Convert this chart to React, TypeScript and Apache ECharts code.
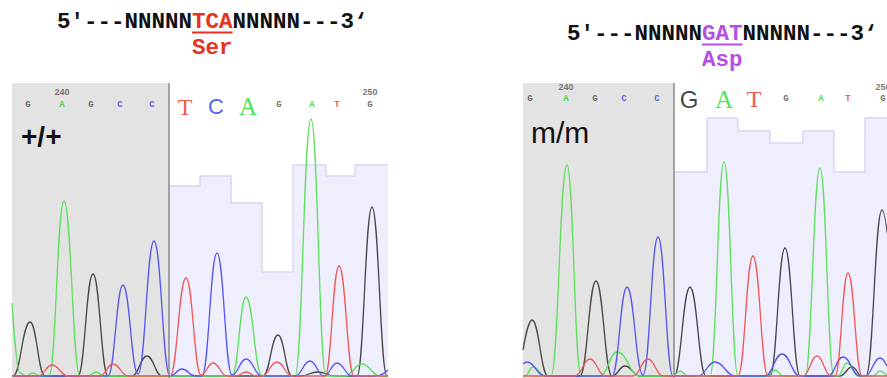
import React, { useEffect, useRef } from "react";
import * as echarts from "echarts";

// ---------- data (x = trace scan index within panel, y = signal intensity) ----------
// Wild type (+/+) panel
const wtBlack = [[0,0],[1,0],[18,54],[33,0],[66,0],[81,102],[96,0],[120,0],[135,20],[150,0],[251,0],[266,41],[280,0],[288,0],[306,4],[323,0],[345,0],[360,169],[375,0],[376,0]];
const wtGreen = [[0,73],[8,3],[14,0],[21,3],[28,0],[37,0],[52,175],[68,0],[76,0],[84,4],[92,0],[220,0],[234,79],[250,0],[283,0],[299,257],[314,0],[333,0],[350,12],[368,0],[376,0]];
const wtBlue = [[0,0],[96,0],[111,91],[126,2],[142,135],[158,0],[170,7],[183,0],[190,0],[205,123],[220,1],[234,17],[250,0],[283,0],[298,15],[312,0],[325,13],[340,0],[364,0],[376,6]];
const wtRed = [[0,0],[26,0],[40,11],[56,0],[88,0],[101,12],[116,0],[158,0],[174,98],[189,1],[201,13],[215,0],[224,0],[234,4],[244,0],[250,0],[265,14],[280,0],[313,0],[327,110],[342,0],[376,0]];
const wtQualX = [157, 188, 219, 250, 281, 314, 343, 376];
const wtQual = [190, 200, 173, 104, 211, 200, 211, 211];
const wtCalls = ["G","A","G","C","C","T","C","A","G","A","T","G"];
const wtCallX = [16, 50, 79, 108, 140, 173, 204, 236, 267, 300, 325, 358];

// Mutant (m/m) panel
const mutBlack = [[0,26],[9,56],[25,0],[57,0],[73,95],[89,0],[102,10],[117,0],[151,0],[167,89],[183,0],[247,0],[262,128],[277,0],[317,0],[329,9],[339,0],[343,0],[359,166],[375,0]];
const mutGreen = [[0,0],[2,0],[10,9],[22,0],[28,0],[44,211],[58,0],[77,0],[94,24],[117,0],[150,0],[157,5],[165,0],[187,0],[201,214],[215,0],[244,0],[252,6],[260,0],[282,0],[297,208],[311,0],[315,0],[324,13],[335,0],[350,0],[357,5],[364,0]];
const mutBlue = [[0,12],[4,14],[22,0],[89,0],[104,89],[120,1],[135,139],[150,0],[175,0],[192,14],[212,0],[242,0],[259,22],[277,0],[305,0],[320,19],[337,0],[342,0],[357,18],[364,10]];
const mutRed = [[0,0],[52,0],[67,17],[82,0],[110,0],[125,17],[140,0],[215,0],[230,120],[245,0],[280,0],[294,20],[308,0],[312,0],[325,103],[339,0],[364,0]];
const mutQualX = [151, 184, 215, 247, 280, 311, 342, 364];
const mutQual = [204, 258, 245, 233, 245, 204, 258, 258];
const mutCalls = ["G","A","G","C","C","G","A","T","G","A","T","G"];
const mutCallX = [7, 43, 72, 101, 134, 166, 201, 231, 263, 298, 325, 360];

const positionLabels = ["240", "250"];
const genotypes = ["+/+", "m/m"];
const codons = ["TCA", "GAT"];
const aminoAcids = ["Ser", "Asp"];

const traceColors: Record<string, string> = { G: "#474747", A: "#5ce05c", C: "#5656ef", T: "#ef5858" };
const callColors: Record<string, string> = { G: "#444444", A: "#22cc22", C: "#3a3aee", T: "#ee3030" };
const bigColors: Record<string, string> = { G: "#111111", A: "#22dd22", C: "#2238ee", T: "#ee2a1a" };
const bigFonts: Record<string, string> = { G: "Liberation Sans", A: "Liberation Serif", C: "Liberation Sans", T: "Liberation Serif" };
const bigSizes: Record<string, number> = { G: 24, A: 25, C: 22, T: 24 };

export default function App() {
  const ref = useRef<HTMLDivElement>(null);
  useEffect(() => {
    if (!ref.current) return;
    const chart = echarts.init(ref.current, undefined, { renderer: "svg" });

    const panels = [
      { black: wtBlack, green: wtGreen, blue: wtBlue, red: wtRed, qx: wtQualX, q: wtQual, calls: wtCalls, cx: wtCallX, divider: wtQualX[0], smallY: 271.5, bigY: 269.5, numY: 284 },
      { black: mutBlack, green: mutGreen, blue: mutBlue, red: mutRed, qx: mutQualX, q: mutQual, calls: mutCalls, cx: mutCallX, divider: mutQualX[0], smallY: 277, bigY: 277, numY: 289 },
    ];

    const series: any[] = [];
    panels.forEach((p, gi) => {
      series.push({
        type: "line",
        xAxisIndex: gi,
        yAxisIndex: gi,
        step: "end",
        symbol: "none",
        silent: true,
        z: 1,
        data: p.qx.map((x, i) => [x, p.q[i]]),
        lineStyle: { color: "#d6d6f6", width: 1.5 },
        areaStyle: { color: "#eeeefc", opacity: 1, origin: "start" },
        markArea: {
          silent: true,
          itemStyle: { color: "#e3e3e3" },
          data: [[{ xAxis: 0 }, { xAxis: p.divider }]],
        },
        markLine: {
          silent: true,
          symbol: "none",
          label: { show: false },
          lineStyle: { color: "#8a8a8a", width: 1.5, type: "solid" },
          data: [{ xAxis: p.divider }],
        },
      });
      const chans: [string, number[][]][] = [["G", p.black], ["A", p.green], ["C", p.blue], ["T", p.red]];
      chans.forEach(([b, d]) => {
        series.push({
          type: "line",
          xAxisIndex: gi,
          yAxisIndex: gi,
          smooth: 0.45,
          smoothMonotone: "x",
          symbol: "none",
          silent: true,
          z: 3,
          data: d,
          lineStyle: { color: traceColors[b], width: 1.3 },
        });
      });
      const codonStart = 5;
      const items: any[] = p.calls.map((c, i) => {
        const big = i >= codonStart && i < codonStart + 3;
        return {
          value: [p.cx[i], big ? p.bigY : p.smallY],
          label: {
            show: true,
            position: "inside",
            formatter: c,
            color: big ? bigColors[c] : callColors[c],
            fontSize: big ? bigSizes[c] : 9,
            fontWeight: big ? "normal" : "bold",
            fontFamily: big ? bigFonts[c] : "Liberation Mono",
          },
        };
      });
      items.push({
        value: [p.cx[1], p.numY],
        label: { show: true, position: "inside", formatter: positionLabels[0], color: "#555", fontSize: 9, fontWeight: "bold", fontFamily: "Liberation Sans" },
      });
      items.push({
        value: [p.cx[11], p.numY],
        label: { show: true, position: "inside", formatter: positionLabels[1], color: "#555", fontSize: 9, fontWeight: "bold", fontFamily: "Liberation Sans" },
      });
      series.push({
        type: "scatter",
        xAxisIndex: gi,
        yAxisIndex: gi,
        symbolSize: 0,
        silent: true,
        clip: false,
        z: 5,
        data: items,
      });
    });

    const headerFont = "Liberation Mono";
    const fs = 22.5;
    const cw = fs * 0.6 * 3;
    const header = (codonLeft: number, y: number, codon: string, aa: string, color: string) => [
      { type: "text", x: codonLeft, y, style: { text: "5′---NNNNN", textAlign: "right", textVerticalAlign: "middle", fontSize: fs, fontWeight: "bold", fontFamily: headerFont, fill: "#111" } },
      { type: "text", x: codonLeft, y, style: { text: codon, textAlign: "left", textVerticalAlign: "middle", fontSize: fs, fontWeight: "bold", fontFamily: headerFont, fill: color } },
      { type: "text", x: codonLeft + cw, y, style: { text: "NNNNN---3‘", textAlign: "left", textVerticalAlign: "middle", fontSize: fs, fontWeight: "bold", fontFamily: headerFont, fill: "#111" } },
      { type: "line", shape: { x1: codonLeft, y1: y + 10.5, x2: codonLeft + cw, y2: y + 10.5 }, style: { stroke: color, lineWidth: 2 } },
      { type: "text", x: codonLeft + cw / 2, y: y + 26, style: { text: aa, textAlign: "center", textVerticalAlign: "middle", fontSize: fs, fontWeight: "bold", fontFamily: headerFont, fill: color } },
    ];

    chart.setOption({
      animation: false,
      grid: [
        { left: 12, top: 83, width: 376, height: 295 },
        { left: 523, top: 83, width: 364, height: 295 },
      ],
      xAxis: [
        { type: "value", gridIndex: 0, min: 0, max: 376, show: false },
        { type: "value", gridIndex: 1, min: 0, max: 364, show: false },
      ],
      yAxis: [
        { type: "value", gridIndex: 0, min: -2, max: 293, show: false },
        { type: "value", gridIndex: 1, min: -2, max: 293, show: false },
      ],
      series,
      graphic: [
        ...header(192, 22, codons[0], aminoAcids[0], "#e63220"),
        ...header(702, 34, codons[1], aminoAcids[1], "#b54ee6"),
        { type: "text", x: 21, y: 136, z: 10, style: { text: genotypes[0], textVerticalAlign: "middle", fontSize: 28, fontWeight: "bold", fontFamily: "Liberation Sans", fill: "#111" } },
        { type: "text", x: 531, y: 132, z: 10, style: { text: genotypes[1], textVerticalAlign: "middle", fontSize: 30, fontWeight: "normal", fontFamily: "Liberation Sans", fill: "#111" } },
      ],
    });
    return () => chart.dispose();
  }, []);
  return <div ref={ref} style={{ width: 887, height: 378, position: "absolute", left: 0, top: 0 }} />;
}
